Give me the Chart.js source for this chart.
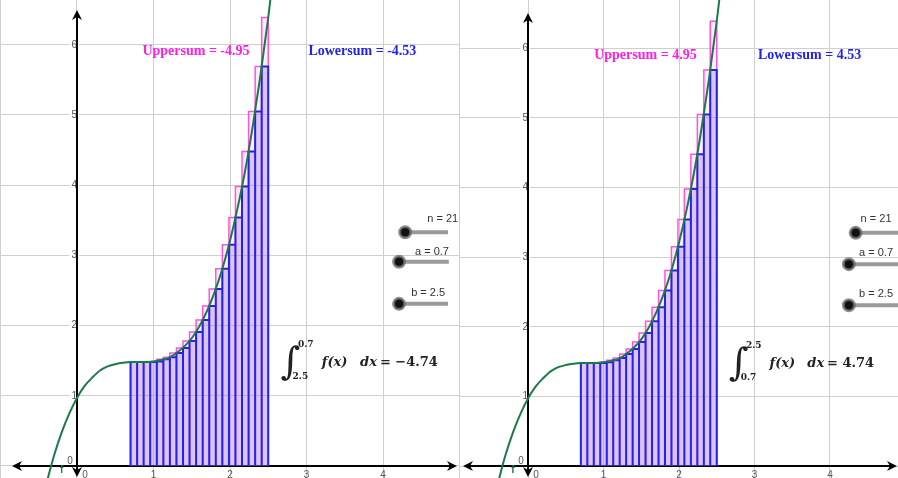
<!DOCTYPE html>
<html>
<head>
<meta charset="utf-8">
<script src="https://cdn.jsdelivr.net/npm/chart.js@4.4.1/dist/chart.umd.min.js"></script>
<style>
  html, body { margin: 0; padding: 0; background: #fff; width: 898px; height: 478px; overflow: hidden; }
  #left { position: absolute; left: 0; top: 0; }
  #right { position: absolute; left: 460px; top: 0; }
</style>
</head>
<body>
<canvas id="left" width="460" height="478"></canvas>
<canvas id="right" width="438" height="478"></canvas>
<script>
(function() {
  'use strict';

  // partition of [0.7, 2.5] into n = 21 strips
  var partition = [0.7, 0.786, 0.871, 0.957, 1.043, 1.129, 1.214, 1.3, 1.386, 1.471, 1.557,
    1.643, 1.729, 1.814, 1.9, 1.986, 2.071, 2.157, 2.243, 2.329, 2.414, 2.5];
  var lowerHeights = [1.48, 1.48, 1.48, 1.48, 1.49, 1.52, 1.55, 1.61, 1.68, 1.78, 1.91,
    2.08, 2.28, 2.52, 2.81, 3.15, 3.54, 3.98, 4.48, 5.05, 5.69];
  var upperHeights = [1.48, 1.48, 1.48, 1.49, 1.52, 1.55, 1.61, 1.68, 1.78, 1.91, 2.08,
    2.28, 2.52, 2.81, 3.15, 3.54, 3.98, 4.48, 5.05, 5.69, 6.39];

  // the curve f
  var curveX = [-0.4, -0.3, -0.2, -0.1, 0, 0.1, 0.2, 0.3, 0.4, 0.5, 0.6, 0.7, 0.8, 0.9, 1.0,
    1.1, 1.2, 1.3, 1.4, 1.5, 1.6, 1.7, 1.8, 1.9, 2.0, 2.1, 2.2, 2.3, 2.4, 2.5, 2.6];
  var curveY = [-0.25, 0.15, 0.48, 0.75, 0.97, 1.14, 1.26, 1.36, 1.42, 1.45, 1.47, 1.48, 1.48, 1.48, 1.49,
    1.51, 1.54, 1.61, 1.70, 1.82, 1.99, 2.21, 2.48, 2.81, 3.21, 3.68, 4.22, 4.86, 5.58, 6.39, 7.31];

  var upperLabels = ['Uppersum = -4.95', 'Uppersum = 4.95'];
  var lowerLabels = ['Lowersum = -4.53', 'Lowersum = 4.53'];
  var integralFrom = ['2.5', '0.7'];
  var integralTo = ['0.7', '2.5'];
  var integralValues = ['\u22124.74', '4.74'];
  var sliderLabels = ['n = 21', 'a = 0.7', 'b = 2.5'];

  var GREEN = '#1b7a48', BLUE = '#2323e8', MAGENTA = '#ff1ee6', PINK = '#ff55d8';
  var GRID = '#cfcfcf', TICK = '#555';

  function steps(heights) {
    var pts = [];
    for (var i = 0; i < heights.length; i++) {
      pts.push({ x: partition[i], y: 0 }, { x: partition[i], y: heights[i] },
        { x: partition[i + 1], y: heights[i] }, { x: partition[i + 1], y: 0 });
    }
    return pts;
  }

  function arrow(ctx, x, y, dx, dy) {
    var len = 10, w = 5;
    ctx.beginPath();
    ctx.moveTo(x, y);
    ctx.lineTo(x - dx * len - dy * w, y - dy * len + dx * w);
    ctx.lineTo(x - dx * len * 0.7, y - dy * len * 0.7);
    ctx.lineTo(x - dx * len + dy * w, y - dy * len - dx * w);
    ctx.closePath();
    ctx.fill();
  }

  var axesPlugin = {
    id: 'axes',
    beforeDatasetsDraw: function(chart, args, o) {
      var ctx = chart.ctx;
      var ox = chart.scales.x.getPixelForValue(0), oy = chart.scales.y.getPixelForValue(0);
      ctx.save();
      ctx.strokeStyle = '#000'; ctx.fillStyle = '#000'; ctx.lineWidth = 2;
      ctx.beginPath();
      ctx.moveTo(o.left + 4, oy); ctx.lineTo(o.right - 4, oy);
      ctx.moveTo(ox, o.top + 4); ctx.lineTo(ox, o.bottom - 4);
      ctx.stroke();
      arrow(ctx, o.left, oy, -1, 0);
      arrow(ctx, o.right, oy, 1, 0);
      arrow(ctx, ox, o.top, 0, -1);
      arrow(ctx, ox, o.bottom, 0, 1);
      // origin labels
      ctx.font = '10px "Liberation Sans", Arial, sans-serif';
      ctx.fillStyle = TICK;
      ctx.textAlign = 'center'; ctx.textBaseline = 'middle';
      ctx.fillText('0', ox - 7, oy - 5);
      ctx.fillText('0', ox + 8, oy + 9);
      ctx.restore();
    }
  };

  var textPlugin = {
    id: 'texts',
    afterDatasetsDraw: function(chart, args, o) {
      var ctx = chart.ctx, sx = chart.scales.x, sy = chart.scales.y;
      ctx.save();
      o.items.forEach(function(t) {
        ctx.font = t.font;
        ctx.fillStyle = t.color;
        ctx.textAlign = t.align || 'center';
        ctx.textBaseline = 'middle';
        ctx.fillText(t.text, sx.getPixelForValue(t.x), sy.getPixelForValue(t.y));
      });
      ctx.restore();
    }
  };

  function tickText(lo, hi) {
    return function(v) { return (Number.isInteger(v) && v >= lo && v <= hi) ? String(v) : ''; };
  }

  // scales sit inside the plot, so they should not push the plot area in
  function noPad(scale) {
    scale.paddingLeft = 0; scale.paddingRight = 0; scale.paddingTop = 0; scale.paddingBottom = 0;
  }

  function makePanel(id, k, view, sliders) {
    var items = [
      { text: upperLabels[k], x: 1.555, y: 5.9, color: MAGENTA, font: 'bold 14px "Liberation Serif", "Times New Roman", serif' },
      { text: lowerLabels[k], x: 3.73, y: 5.9, color: BLUE, font: 'bold 14px "Liberation Serif", "Times New Roman", serif' },
      { text: '\u222B', x: 2.79, y: 1.45, color: '#222', font: '38px "DejaVu Serif", serif' },
      { text: integralTo[k], x: 2.99, y: 1.73, color: '#222', font: 'bold 9px "DejaVu Serif", serif' },
      { text: integralFrom[k], x: 2.92, y: 1.27, color: '#222', font: 'bold 9px "DejaVu Serif", serif' },
      { text: 'f(x)', x: 3.2, y: 1.47, align: 'left', color: '#222', font: 'bold italic 13px "DejaVu Serif", serif' },
      { text: 'dx', x: 3.7, y: 1.47, align: 'left', color: '#222', font: 'bold italic 13px "DejaVu Serif", serif' },
      { text: '= ' + integralValues[k], x: 3.96, y: 1.47, align: 'left', color: '#222', font: 'bold 13px "DejaVu Serif", serif' },
      { text: 'f', x: -0.2, y: -0.06, color: GREEN, font: 'bold 10px "Liberation Sans", sans-serif' }
    ];
    sliders.forEach(function(s, i) {
      items.push({ text: sliderLabels[i], x: s.lx, y: s.ly, color: '#333', font: '11px "Liberation Sans", Arial, sans-serif' });
    });

    var datasets = [
      { label: 'knobs', type: 'scatter', order: 0, data: sliders.map(function(s) { return { x: s.x, y: s.y }; }),
        pointRadius: 5.5, pointBackgroundColor: '#111', pointBorderColor: 'rgba(110,110,110,0.75)', pointBorderWidth: 3 },
      { label: 'f', order: 2, data: curveX.map(function(x, i) { return { x: x, y: curveY[i] }; }),
        borderColor: GREEN, borderWidth: 2, pointRadius: 0, fill: false, cubicInterpolationMode: 'monotone' },
      { label: 'Lowersum', order: 3, data: steps(lowerHeights), borderColor: BLUE, borderWidth: 2,
        backgroundColor: 'rgba(150,110,235,0.32)', fill: 'origin', pointRadius: 0, tension: 0 },
      { label: 'Uppersum', order: 4, data: steps(upperHeights), borderColor: PINK, borderWidth: 1.5,
        backgroundColor: 'rgba(255,140,235,0.16)', fill: 'origin', pointRadius: 0, tension: 0 }
    ];
    sliders.forEach(function(s) {
      datasets.push({ label: 'track', order: 1, data: [{ x: s.x, y: s.y }, { x: s.end, y: s.y }],
        borderColor: '#9a9a9a', borderWidth: 4, pointRadius: 0, fill: false });
    });

    return new Chart(document.getElementById(id), {
      type: 'line',
      data: { datasets: datasets },
      plugins: [axesPlugin, textPlugin],
      options: {
        responsive: false, animation: false, events: [],
        layout: { padding: 0, autoPadding: false },
        plugins: {
          legend: { display: false }, tooltip: { enabled: false },
          axes: view.arrows,
          texts: { items: items }
        },
        scales: {
          x: {
            type: 'linear', position: { y: 0 }, min: view.xmin, max: view.xmax,
            afterFit: noPad,
            border: { display: false },
            grid: { color: GRID, lineWidth: 1, drawTicks: false },
            ticks: { stepSize: 1, autoSkip: false, includeBounds: false, color: TICK, padding: 3, maxRotation: 0,
              font: { size: 10, family: '"Liberation Sans", Arial, sans-serif' },
              callback: tickText(1, 4) }
          },
          y: {
            type: 'linear', position: { x: 0 }, min: view.ymin, max: view.ymax,
            afterFit: noPad,
            border: { display: false },
            grid: { color: GRID, lineWidth: 1, drawTicks: false },
            ticks: { stepSize: 1, autoSkip: false, includeBounds: false, color: TICK, padding: 4,
              showLabelBackdrop: true, backdropColor: '#fff', backdropPadding: 2,
              font: { size: 10, family: '"Liberation Sans", Arial, sans-serif' },
              callback: tickText(1, 6) }
          }
        }
      }
    });
  }

  makePanel('left', 0,
    { xmin: -1.0065, xmax: 5.0065, ymin: -0.171, ymax: 6.638,
      arrows: { left: 12, right: 457, top: 10, bottom: 477 } },
    [ { x: 4.29, y: 3.33, end: 4.85, lx: 4.78, ly: 3.52 },
      { x: 4.21, y: 2.91, end: 4.86, lx: 4.64, ly: 3.05 },
      { x: 4.21, y: 2.31, end: 4.85, lx: 4.59, ly: 2.46 } ]);

  makePanel('right', 1,
    { xmin: -0.9007, xmax: 4.9007, ymin: -0.1724, ymax: 6.695,
      arrows: { left: 3, right: 437, top: 13, bottom: 477 } },
    [ { x: 4.34, y: 3.35, end: 5.2, lx: 4.61, ly: 3.55 },
      { x: 4.25, y: 2.90, end: 5.2, lx: 4.61, ly: 3.06 },
      { x: 4.25, y: 2.31, end: 5.2, lx: 4.61, ly: 2.47 } ]);
})();
</script>
</body>
</html>
